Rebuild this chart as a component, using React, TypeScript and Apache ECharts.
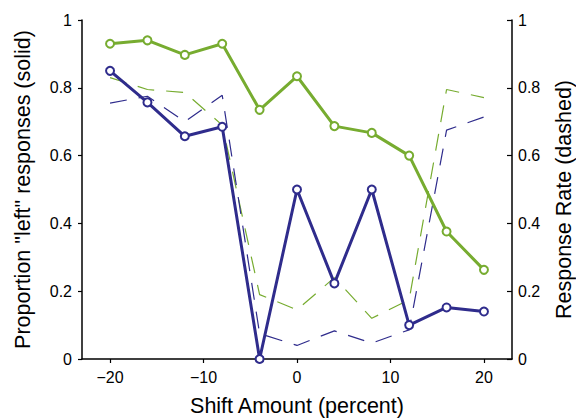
import React, { useEffect, useRef } from "react";
import * as echarts from "echarts";

const shift = [-20, -16, -12, -8, -4, 0, 4, 8, 12, 16, 20];
const greenSolid = [0.93, 0.94, 0.897, 0.93, 0.735, 0.834, 0.687, 0.667, 0.6, 0.376, 0.263];
const blueSolid = [0.85, 0.757, 0.657, 0.685, 0, 0.5, 0.223, 0.5, 0.1, 0.152, 0.14];
const greenDashed = [0.83, 0.795, 0.786, 0.69, 0.19, 0.145, 0.24, 0.12, 0.175, 0.795, 0.771];
const blueDashed = [0.755, 0.775, 0.7, 0.778, 0.075, 0.04, 0.083, 0.047, 0.086, 0.675, 0.714];
const xTicks = [-20, -10, 0, 10, 20];

const GREEN = "#77AC30";
const BLUE = "#2F2C8C";
const FONT = "Liberation Sans, Arial, sans-serif";

const pairs = (ys: number[]) => shift.map((x, i) => [x, ys[i]]);

export default function App() {
  const ref = useRef<HTMLDivElement>(null);
  useEffect(() => {
    if (!ref.current) return;
    const chart = echarts.init(ref.current, undefined, { renderer: "svg" });
    const yFmt = (v: number) => (v === 0 ? "0" : v === 1 ? "1" : v.toFixed(1));
    const axisLine = { show: true, onZero: false, lineStyle: { color: "#000", width: 1.5 } };
    const solid = (name: string, data: number[], color: string) => ({
      name,
      type: "line",
      yAxisIndex: 0,
      data: pairs(data),
      symbol: "emptyCircle",
      symbolSize: 8,
      lineStyle: { color, width: 3 },
      itemStyle: { color, borderColor: color, borderWidth: 2.8 },
      z: 5,
    });
    const dashed = (name: string, data: number[], color: string) => ({
      name,
      type: "line",
      yAxisIndex: 1,
      data: pairs(data),
      symbol: "none",
      lineStyle: { color, width: 1.2, type: [17, 12] },
      z: 3,
    });
    chart.setOption({
      animation: false,
      textStyle: { fontFamily: FONT },
      grid: { left: 82, right: 64, top: 20, bottom: 59, containLabel: false, outerBoundsMode: "none" },
      xAxis: {
        type: "value",
        min: -23,
        max: 23,
        name: "Shift Amount (percent)",
        nameLocation: "middle",
        nameGap: 36,
        nameTextStyle: { fontSize: 21.5, color: "#000", fontFamily: FONT },
        axisLine,
        axisTick: { show: true, customValues: xTicks, length: 4, lineStyle: { color: "#000", width: 1.2 } },
        axisLabel: {
          customValues: xTicks,
          fontSize: 16,
          color: "#000",
          margin: 10,
          fontFamily: FONT,
          formatter: (v: number) => (v < 0 ? "\u2212" + Math.abs(v) : String(v)),
        },
        splitLine: { show: false },
      },
      yAxis: [
        {
          type: "value",
          position: "left",
          min: 0,
          max: 1,
          interval: 0.2,
          name: 'Proportion "left" responses (solid)',
          nameLocation: "middle",
          nameRotate: 90,
          nameGap: 48,
          nameTextStyle: { fontSize: 21.5, color: "#000", fontFamily: FONT },
          axisLine,
          axisTick: { show: true, length: 4, lineStyle: { color: "#000", width: 1.2 } },
          axisLabel: { fontSize: 16, color: "#000", margin: 10, formatter: yFmt, fontFamily: FONT },
          splitLine: { show: false },
        },
        {
          type: "value",
          position: "right",
          min: 0,
          max: 1,
          interval: 0.2,
          name: "Response Rate (dashed)",
          nameLocation: "middle",
          nameRotate: 90,
          nameGap: 41,
          nameTextStyle: { fontSize: 21.5, color: "#000", fontFamily: FONT, padding: [0, 20, 0, 0] },
          axisLine,
          axisTick: { show: true, inside: true, length: 5, lineStyle: { color: "#000", width: 1.2 } },
          axisLabel: { fontSize: 16, color: "#000", margin: 6, formatter: yFmt, fontFamily: FONT },
          splitLine: { show: false },
        },
      ],
      series: [
        dashed("Green rate", greenDashed, GREEN),
        dashed("Blue rate", blueDashed, BLUE),
        solid("Green proportion", greenSolid, GREEN),
        solid("Blue proportion", blueSolid, BLUE),
      ],
    });
    return () => chart.dispose();
  }, []);
  return <div ref={ref} style={{ width: 576, height: 418, position: "absolute", left: 0, top: 0 }} />;
}
